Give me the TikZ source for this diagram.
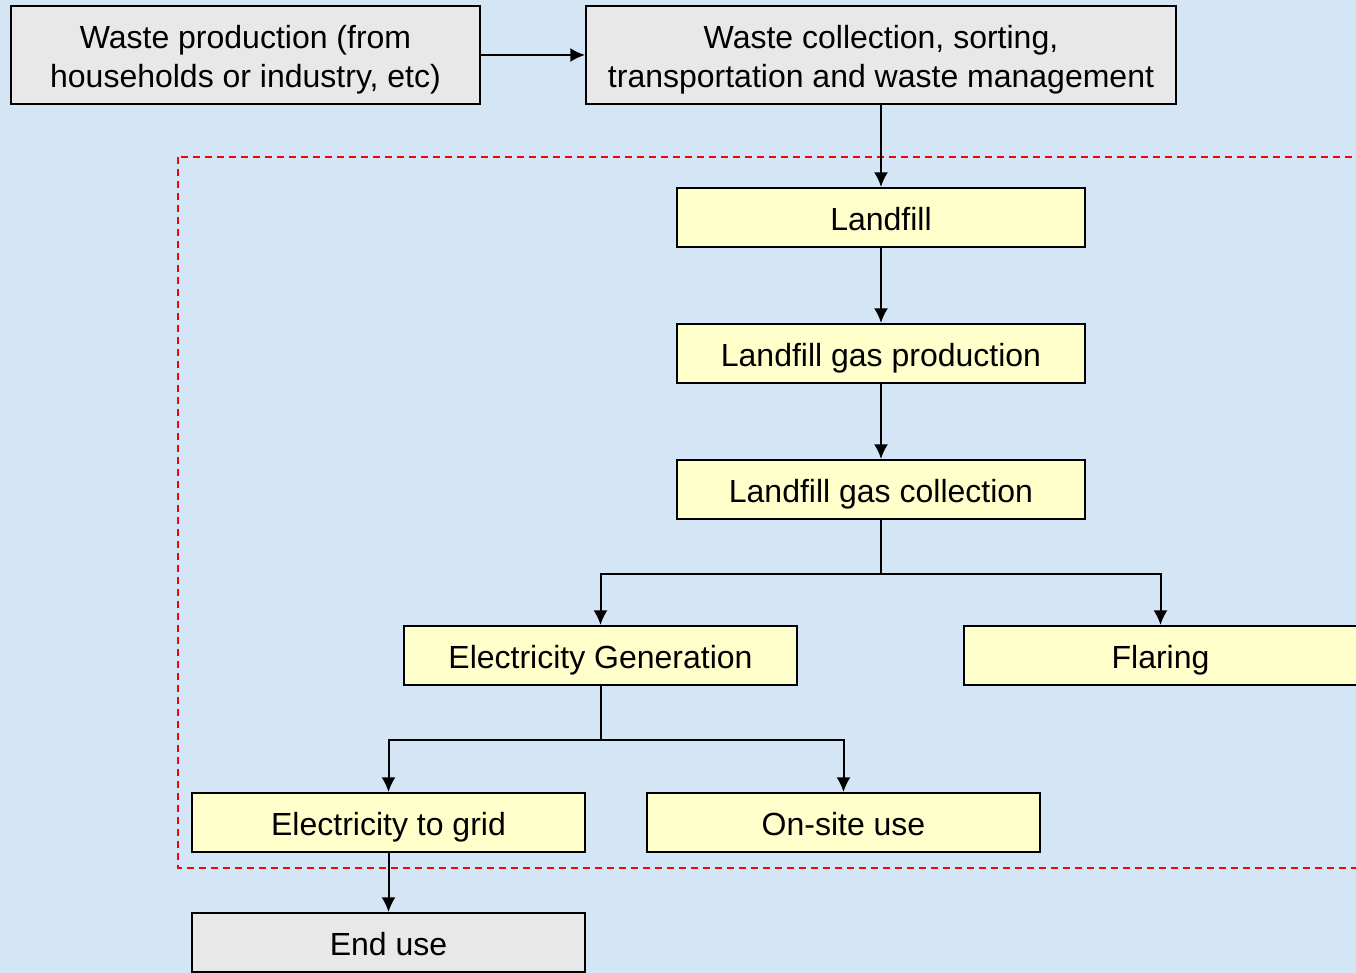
\documentclass[tikz,border=0pt]{standalone}
\usepackage{fontspec}
\setmainfont{Liberation Sans}
\usepackage{xcolor}
\usepackage{tikz}
\usetikzlibrary{arrows.meta, positioning}

\definecolor{bgblue}{RGB}{212,230,246}
\definecolor{boxgray}{RGB}{232,232,232}
\definecolor{boxyellow}{RGB}{255,255,204}

\tikzset{
    box/.style={draw=black, line width=1.5pt, inner sep=0pt, align=center,
        text height=20pt, text depth=0pt,
        font=\fontsize{24}{29}\selectfont},
    graybox/.style={box, fill=boxgray, minimum height=73.5pt},
    twoline/.style={graybox, text height=49pt, text depth=0pt},
    landbox/.style={box, fill=boxyellow, minimum width=306pt, minimum height=44.25pt},
    usebox/.style={box, fill=boxyellow, minimum width=294.75pt, minimum height=44.25pt},
    flow/.style={->, line width=1.5pt}
}

\begin{document}
\begin{tikzpicture}[x=0.75pt, y=-0.75pt, >={Latex[length=11pt,width=10.5pt]}]

    % 1. Nền
    \useasboundingbox (0,0) rectangle (1356,973);
    \fill[bgblue] (0,0) rectangle (1356,973);
    \clip (0,0) rectangle (1356,973);

    % 2. Vùng bãi chôn lấp
    \draw[red, line width=1.1pt, dash pattern=on 5.5pt off 3.5pt]
        (178,157) rectangle (1380,868);

    % 3. Các khối
    \node[twoline, minimum width=351.75pt] (prod) at (245.5,55)
        {Waste production (from\\households or industry, etc)};
    \node[twoline, minimum width=442.5pt] (coll) at (881,55)
        {Waste collection, sorting,\\transportation and waste management};
    \node[landbox] (fill) at (881,217.5) {Landfill};
    \node[landbox] (gasprod) at (881,353.5) {Landfill gas production};
    \node[landbox] (gascoll) at (881,489.5) {Landfill gas collection};
    \node[usebox] (elec) at (600.5,655.5) {Electricity Generation};
    \node[usebox] (flare) at (1160.5,655.5) {Flaring};
    \node[usebox] (grid) at (388.5,822.5) {Electricity to grid};
    \node[usebox] (onsite) at (843.5,822.5) {On-site use};
    \node[graybox, minimum width=294.75pt, minimum height=44.25pt] (enduse)
        at (388.5,942.5) {End use};

    % 4. Mũi tên
    \draw[flow] (prod) -- (coll);
    \draw[flow] (coll) -- (fill);
    \draw[flow] (fill) -- (gasprod);
    \draw[flow] (gasprod) -- (gascoll);
    \draw[flow] (gascoll.south) -- ++(0,54) -| (elec.north);
    \draw[flow] (gascoll.south) -- ++(0,54) -| (flare.north);
    \draw[flow] (elec.south) -- ++(0,54) -| (grid.north);
    \draw[flow] (elec.south) -- ++(0,54) -| (onsite.north);
    \draw[flow] (grid) -- (enduse);
\end{tikzpicture}
\end{document}
